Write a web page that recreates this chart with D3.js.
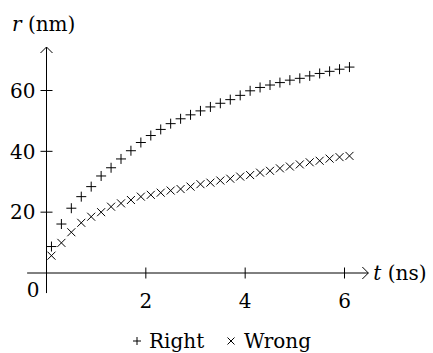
<!DOCTYPE html>
<html>
<head>
<meta charset="utf-8">
<script src="https://cdn.jsdelivr.net/npm/d3@7"></script>
<style>
  body { margin: 0; background: #fff; }
  svg text { font-family: "DejaVu Serif", serif; font-size: 20px; fill: #000; }
</style>
</head>
<body>
<svg id="chart" width="433" height="353"></svg>
<script>
// data
const times = [0.1, 0.3, 0.5, 0.7, 0.9, 1.1, 1.3, 1.5, 1.7, 1.9, 2.1, 2.3, 2.5, 2.7, 2.9, 3.1,
  3.3, 3.5, 3.7, 3.9, 4.1, 4.3, 4.5, 4.7, 4.9, 5.1, 5.3, 5.5, 5.7, 5.9, 6.1];
const rightValues = [8.7, 16.1, 21.3, 25.1, 28.4, 31.9, 34.6, 37.5, 40.2, 42.9, 45.2, 47.2, 49.1, 50.7,
  52.0, 53.3, 54.6, 55.8, 57.0, 58.4, 59.9, 61.0, 61.8, 62.6, 63.4, 64.0, 64.8, 65.6, 66.3, 67.0, 67.7];
const wrongValues = [5.7, 9.9, 13.4, 16.5, 18.5, 20.0, 21.8, 22.9, 24.0, 25.1, 25.7, 26.4, 27.1, 27.6,
  28.4, 29.2, 29.7, 30.4, 31.0, 31.7, 32.2, 33.0, 33.6, 34.4, 35.0, 35.7, 36.4, 36.9, 37.6, 38.1, 38.5];
const xTicks = [2, 4, 6];
const yTicks = [20, 40, 60];
const legendLabels = ["Right", "Wrong"];

const svg = d3.select("#chart");

const x = d3.scaleLinear().domain([0, 6]).range([46.5, 344.5]);
const y = d3.scaleLinear().domain([0, 60]).range([273, 90.5]);

const axisColor = "#000";

// axis lines, running a bit past the origin
svg.append("line")
  .attr("x1", x(-0.39)).attr("x2", x(6.48))
  .attr("y1", y(0)).attr("y2", y(0))
  .style("stroke", axisColor).style("stroke-width", 1);
svg.append("line")
  .attr("x1", x(0)).attr("x2", x(0))
  .attr("y1", y(-6.6)).attr("y2", y(74.3))
  .style("stroke", axisColor).style("stroke-width", 1);

// open arrow heads
const xEnd = x(6.48), yEnd = y(74.3);
svg.append("path")
  .attr("d", `M${xEnd - 6},${y(0) - 6}L${xEnd},${y(0)}L${xEnd - 6},${y(0) + 6}`)
  .attr("fill", "none").style("stroke", axisColor).style("stroke-width", 1);
svg.append("path")
  .attr("d", `M${x(0) - 6},${yEnd + 6}L${x(0)},${yEnd}L${x(0) + 6},${yEnd + 6}`)
  .attr("fill", "none").style("stroke", axisColor).style("stroke-width", 1);

// ticks
svg.selectAll(".xtick").data(xTicks).enter().append("line")
  .attr("class", "xtick")
  .attr("x1", d => x(d)).attr("x2", d => x(d))
  .attr("y1", y(0) - 5.5).attr("y2", y(0) + 5.5)
  .style("stroke", axisColor).style("stroke-width", 1);
svg.selectAll(".ytick").data(yTicks).enter().append("line")
  .attr("class", "ytick")
  .attr("x1", x(0) - 6).attr("x2", x(0) + 6)
  .attr("y1", d => y(d)).attr("y2", d => y(d))
  .style("stroke", axisColor).style("stroke-width", 1);

// tick labels
svg.selectAll(".xlab").data(xTicks).enter().append("text")
  .attr("x", d => x(d)).attr("y", y(0) + 35)
  .attr("text-anchor", "middle")
  .text(d => d);
svg.selectAll(".ylab").data(yTicks).enter().append("text")
  .attr("x", x(0) - 11).attr("y", d => y(d))
  .attr("dy", "0.36em")
  .attr("text-anchor", "end")
  .text(d => d);
svg.append("text")
  .attr("x", x(0) - 7).attr("y", y(0) + 24)
  .attr("text-anchor", "end")
  .text("0");

// axis titles
const xt = svg.append("text").attr("x", xEnd + 5).attr("y", y(0)).attr("dy", "0.36em");
xt.append("tspan").style("font-style", "italic").text("t");
xt.append("tspan").text(" (ns)");
const yt = svg.append("text").attr("x", 12).attr("y", 31);
yt.append("tspan").style("font-style", "italic").text("r");
yt.append("tspan").text(" (nm)");

// markers
const plus = (cx, cy, s) => `M${cx - s},${cy}h${2 * s}M${cx},${cy - s}v${2 * s}`;
const cross = (cx, cy, s) => `M${cx - s},${cy - s}L${cx + s},${cy + s}M${cx - s},${cy + s}L${cx + s},${cy - s}`;

svg.append("g").selectAll("path")
  .data(times.map((t, i) => [t, rightValues[i]]))
  .enter().append("path")
  .attr("d", d => plus(x(d[0]), y(d[1]), 5))
  .style("stroke", "#000").style("stroke-width", 1).attr("fill", "none");

svg.append("g").selectAll("path")
  .data(times.map((t, i) => [t, wrongValues[i]]))
  .enter().append("path")
  .attr("d", d => cross(x(d[0]), y(d[1]), 4))
  .style("stroke", "#000").style("stroke-width", 1).attr("fill", "none");

// legend
const legend = svg.append("g").attr("transform", "translate(0,348)");
legend.append("path").attr("d", plus(137, -7, 4))
  .style("stroke", "#000").style("stroke-width", 1).attr("fill", "none");
legend.append("text").attr("x", 149).attr("y", 0).text(legendLabels[0]);
legend.append("path").attr("d", cross(231, -7, 3.5))
  .style("stroke", "#000").style("stroke-width", 1).attr("fill", "none");
legend.append("text").attr("x", 244).attr("y", 0).text(legendLabels[1]);
</script>
</body>
</html>
